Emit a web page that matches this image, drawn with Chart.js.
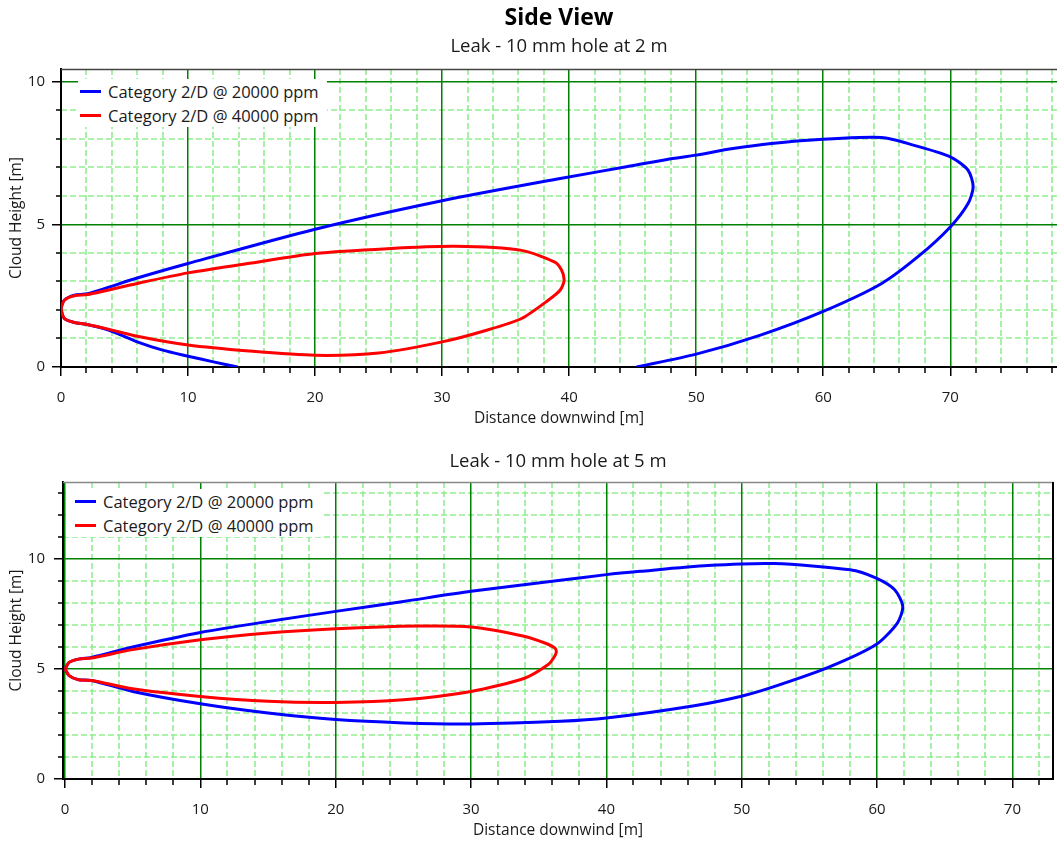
<!DOCTYPE html>
<html>
<head>
<meta charset="utf-8">
<title>Side View</title>
<script src="https://cdn.jsdelivr.net/npm/chart.js@4.4.0/dist/chart.umd.min.js"></script>
<style>
  html, body { margin: 0; padding: 0; background: #fff; }
  body { position: relative; width: 1057px; height: 845px; overflow: hidden; font-family: 'Open Sans', sans-serif; }
  .panel { position: absolute; left: 0; width: 1057px; }
  #topPanel { top: 0; height: 432px; }
  #bottomPanel { top: 432px; height: 413px; }
  .legend { position: absolute; z-index: 2; background: #fff; color: #1a1a1a; font-size: 16.5px; }
  .legend div { display: flex; align-items: center; height: 24px; white-space: nowrap; }
  .legend i { display: inline-block; width: 21px; height: 3px; margin-right: 7px; }
</style>
</head>
<body>
<div class="panel" id="topPanel"><canvas id="topChart" width="1057" height="432"></canvas></div>
<div class="panel" id="bottomPanel"><canvas id="bottomChart" width="1057" height="413"></canvas></div>
<div class="legend" id="topLegend" style="left:78px; top:79px; padding:0 8px 0 2px;"></div>
<div class="legend" id="bottomLegend" style="left:66px; top:489px; padding:0 8px 0 9px;"></div>

<script>
// series names
const seriesLabels = ['Category 2/D @ 20000 ppm', 'Category 2/D @ 40000 ppm'];
const seriesColors = ['#0000ff', '#ff0000'];

// leak at 2 m - cloud outline, 20000 ppm (path order)
const top20X = [13.9, 12.0, 10.0, 8.0, 6.0, 3.8, 1.97, 1.05, 0.26, 0.0, 0.26, 1.05, 2.1, 6.0, 10.0, 20.0, 30.0, 39.3, 44.5, 47.7, 50.0, 52.9, 58.2, 64.6, 67.1, 70.0, 71.4, 71.8, 71.4, 70.0, 67.6, 64.6, 60.0, 55.0, 50.0, 45.3];
const top20Y = [0.0, 0.18, 0.38, 0.59, 0.88, 1.29, 1.50, 1.56, 1.70, 2.05, 2.34, 2.52, 2.57, 3.12, 3.63, 4.83, 5.83, 6.61, 7.02, 7.28, 7.43, 7.66, 7.93, 8.05, 7.78, 7.37, 6.90, 6.32, 5.73, 4.91, 3.92, 2.93, 1.95, 1.11, 0.45, 0.0];
// leak at 2 m - 40000 ppm
const top40X = [0.0, 0.26, 1.05, 1.97, 3.8, 6.0, 10.0, 14.8, 20.0, 25.0, 30.0, 33.5, 36.25, 38.35, 39.3, 39.6, 39.4, 38.87, 36.25, 31.0, 25.7, 20.0, 15.0, 10.0, 6.0, 2.1, 1.05, 0.26, 0.0];
const top40Y = [2.05, 1.70, 1.56, 1.50, 1.32, 1.08, 0.77, 0.56, 0.41, 0.49, 0.88, 1.29, 1.70, 2.34, 2.70, 3.04, 3.40, 3.68, 4.09, 4.23, 4.15, 3.98, 3.65, 3.30, 2.93, 2.54, 2.50, 2.34, 2.05];

// leak at 5 m - 20000 ppm
const bot20X = [0.0, 0.3, 1.0, 1.97, 5.0, 10.0, 15.0, 20.0, 25.0, 30.0, 36.6, 40.0, 42.5, 47.5, 52.4, 58.0, 59.9, 61.3, 61.9, 61.5, 59.9, 56.3, 52.1, 49.9, 46.5, 40.0, 36.6, 30.0, 25.0, 20.0, 15.0, 10.0, 5.0, 1.97, 1.0, 0.3, 0.0];
const bot20Y = [5.0, 5.3, 5.45, 5.53, 6.0, 6.66, 7.16, 7.62, 8.07, 8.53, 9.03, 9.29, 9.44, 9.70, 9.79, 9.51, 9.14, 8.6, 7.85, 7.09, 6.1, 5.05, 4.14, 3.75, 3.33, 2.77, 2.62, 2.50, 2.55, 2.70, 3.0, 3.42, 3.98, 4.48, 4.51, 4.7, 5.0];
// leak at 5 m - 40000 ppm
const bot40X = [0.0, 0.3, 1.0, 1.97, 5.0, 10.0, 15.0, 20.0, 26.1, 30.0, 34.0, 35.5, 36.2, 36.3, 36.1, 35.7, 34.0, 30.0, 25.0, 20.0, 15.0, 10.0, 5.0, 1.97, 1.0, 0.3, 0.0];
const bot40Y = [5.0, 5.3, 5.45, 5.5, 5.88, 6.33, 6.64, 6.83, 6.95, 6.91, 6.48, 6.17, 5.95, 5.76, 5.5, 5.2, 4.59, 3.98, 3.6, 3.48, 3.53, 3.75, 4.1, 4.48, 4.51, 4.7, 5.0];

// axis ranges and tick steps
const topXRange = [0, 78.4], topYRange = [0, 10.45];
const botXRange = [-0.15, 73], botYRange = [0, 13.5];
const xMajorStep = 10, xMinorStep = 2;
const yMajorStep = 5, yMinorStep = 1;

const toPoints = (xs, ys) => xs.map((x, i) => ({ x: x, y: ys[i] }));

const textColor = '#1a1a1a';
const font = 'Open Sans';

// dashed minor grid + small tick marks, and the frame lines
const minorGrid = {
    id: 'minorGrid',
    beforeDraw(chart, args, o) {
        const { ctx, chartArea: a, scales: { x, y } } = chart;
        const xs = [], ys = [];
        for (let k = Math.ceil(x.min / xMinorStep); k * xMinorStep <= x.max; k++) {
            if (k % (xMajorStep / xMinorStep) !== 0) xs.push(Math.round(x.getPixelForValue(k * xMinorStep)));
        }
        for (let k = Math.ceil(y.min / yMinorStep); k * yMinorStep <= y.max; k++) {
            if (k % (yMajorStep / yMinorStep) !== 0) ys.push(Math.round(y.getPixelForValue(k * yMinorStep)));
        }
        ctx.save();
        ctx.lineWidth = 1.6;
        ctx.strokeStyle = '#90ee90';
        ctx.setLineDash([6, 3]);
        ctx.beginPath();
        xs.forEach(px => { ctx.moveTo(px, a.top); ctx.lineTo(px, a.bottom); });
        ys.forEach(py => { ctx.moveTo(a.left, py); ctx.lineTo(a.right, py); });
        ctx.stroke();
        ctx.setLineDash([]);
        ctx.strokeStyle = '#000';
        ctx.lineWidth = 1.5;
        ctx.beginPath();
        xs.forEach(px => { ctx.moveTo(px, a.bottom); ctx.lineTo(px, a.bottom + 6); });
        ys.forEach(py => { ctx.moveTo(a.left - 5, py); ctx.lineTo(a.left, py); });
        ctx.stroke();
        ctx.restore();
    },
    afterDraw(chart, args, o) {
        const { ctx, chartArea: a } = chart;
        ctx.save();
        ctx.strokeStyle = o.topColor;
        ctx.lineWidth = 1.5;
        ctx.beginPath();
        ctx.moveTo(a.left, a.top + 0.5);
        ctx.lineTo(a.right, a.top + 0.5);
        ctx.stroke();
        if (o.rightBorder) {
            ctx.strokeStyle = '#000';
            ctx.lineWidth = 2;
            ctx.beginPath();
            ctx.moveTo(a.right, a.top);
            ctx.lineTo(a.right, a.bottom + 1);
            ctx.stroke();
        }
        ctx.restore();
    }
};

function sideView(canvasId, cfg) {
    return new Chart(document.getElementById(canvasId), {
        type: 'scatter',
        data: {
            datasets: [
                { label: seriesLabels[0], data: toPoints(cfg.x20, cfg.y20), borderColor: seriesColors[0], order: 1 },
                { label: seriesLabels[1], data: toPoints(cfg.x40, cfg.y40), borderColor: seriesColors[1], order: 0 }
            ]
        },
        options: {
            responsive: false,
            animation: false,
            showLine: true,
            layout: { padding: { left: 0, right: cfg.padRight, top: 0, bottom: 0 } },
            elements: {
                point: { radius: 0, hoverRadius: 0 },
                line: { borderWidth: 3, tension: 0.25, fill: false }
            },
            plugins: {
                legend: { display: false },
                tooltip: { enabled: false },
                title: {
                    display: !!cfg.title,
                    text: cfg.title,
                    fullSize: false,
                    color: '#000',
                    font: { family: font, size: 23, weight: 'bold' },
                    padding: { top: 4.4, bottom: 3 }
                },
                subtitle: {
                    display: true,
                    text: cfg.subtitle,
                    fullSize: false,
                    color: textColor,
                    font: { family: font, size: 18.5 },
                    padding: cfg.subPad
                },
                minorGrid: { topColor: cfg.topColor, rightBorder: cfg.rightBorder }
            },
            scales: {
                x: {
                    type: 'linear',
                    position: 'bottom',
                    min: cfg.xRange[0],
                    max: cfg.xRange[1],
                    afterFit: s => { s.height = cfg.xAxisH; },
                    ticks: { stepSize: xMajorStep, includeBounds: false, color: textColor, font: { family: font, size: 15 }, padding: 13 },
                    grid: { color: '#008000', lineWidth: 1.5, tickColor: '#000', tickLength: 9, tickWidth: 1.5 },
                    border: { color: '#000', width: 2 },
                    title: { display: true, text: 'Distance downwind [m]', color: textColor, font: { family: font, size: 15.5 }, padding: { top: 0, bottom: cfg.xTitlePad } }
                },
                y: {
                    type: 'linear',
                    min: cfg.yRange[0],
                    max: cfg.yRange[1],
                    afterFit: s => { s.width = cfg.yAxisW; },
                    ticks: { stepSize: yMajorStep, includeBounds: false, color: textColor, font: { family: font, size: 15 }, padding: cfg.yTickPad },
                    grid: { color: '#008000', lineWidth: 1.5, tickColor: '#000', tickLength: 9, tickWidth: 1.5 },
                    border: { color: '#000', width: 2 },
                    title: { display: true, text: 'Cloud Height [m]', color: textColor, font: { family: font, size: 15.5 }, padding: { top: 7.7, bottom: 0 } }
                }
            }
        },
        plugins: [minorGrid]
    });
}

sideView('topChart', {
    x20: top20X, y20: top20Y, x40: top40X, y40: top40Y,
    xRange: topXRange, yRange: topYRange,
    title: 'Side View', subtitle: 'Leak - 10 mm hole at 2 m',
    subPad: { top: 0.9, bottom: 10.9 },
    xAxisH: 65, yAxisW: 61, yTickPad: 7, padRight: 0, xTitlePad: 3.7,
    topColor: '#444', rightBorder: false
});

sideView('bottomChart', {
    x20: bot20X, y20: bot20Y, x40: bot40X, y40: bot40Y,
    xRange: botXRange, yRange: botYRange,
    title: '', subtitle: 'Leak - 10 mm hole at 5 m',
    subPad: { top: 18.9, bottom: 8.9 },
    xAxisH: 66, yAxisW: 63, yTickPad: 9, padRight: 4, xTitlePad: 4.7,
    topColor: '#888', rightBorder: true
});

// legends sit inside the plot, top left, on a white box
function fillLegend(id) {
    const box = document.getElementById(id);
    seriesLabels.forEach((label, i) => {
        const row = document.createElement('div');
        const swatch = document.createElement('i');
        swatch.style.background = seriesColors[i];
        row.appendChild(swatch);
        row.appendChild(document.createTextNode(label));
        box.appendChild(row);
    });
}
fillLegend('topLegend');
fillLegend('bottomLegend');
</script>
</body>
</html>
